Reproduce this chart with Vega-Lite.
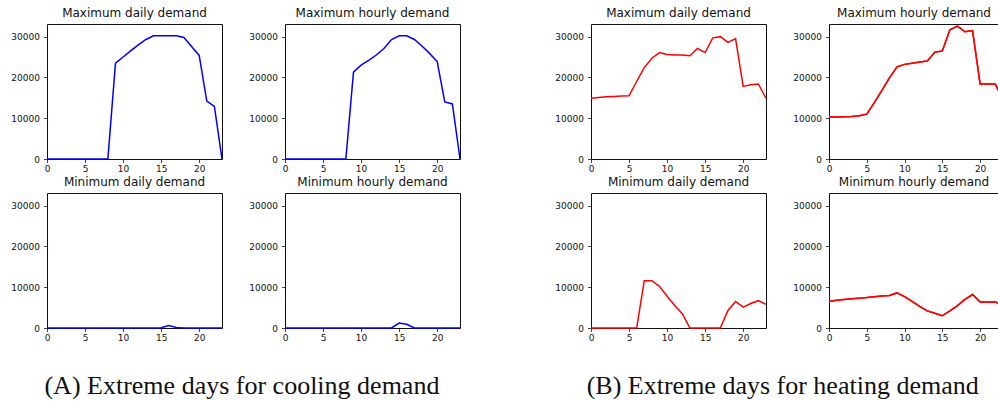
{
  "$schema": "https://vega.github.io/schema/vega-lite/v6.json",
  "padding": {"left": 10, "top": 6, "right": 0, "bottom": 0},
  "background": "white",
  "config": {
    "view": {"stroke": "#111", "strokeWidth": 1},
    "axis": {"domain": false, "grid": false, "tickColor": "#111", "tickSize": 3.5, "tickWidth": 0.8, "labelFont": "DejaVu Sans", "labelFontSize": 9, "labelColor": "#111", "title": null, "labelFlush": false},
    "axisX": {"labelPadding": 2},
    "axisY": {"labelPadding": 4},
    "title": {"font": "DejaVu Sans", "fontSize": 12, "fontWeight": "normal", "color": "#111", "offset": 4, "anchor": "middle", "frame": "group"}
  },
  "datasets": {
    "d": [
      {"g":"A","p":"maxd","h":0,"v":0},{"g":"A","p":"maxd","h":1,"v":0},{"g":"A","p":"maxd","h":2,"v":0},{"g":"A","p":"maxd","h":3,"v":0},{"g":"A","p":"maxd","h":4,"v":0},{"g":"A","p":"maxd","h":5,"v":0},{"g":"A","p":"maxd","h":6,"v":0},{"g":"A","p":"maxd","h":7,"v":0},{"g":"A","p":"maxd","h":8,"v":0},{"g":"A","p":"maxd","h":9,"v":23500},{"g":"A","p":"maxd","h":10,"v":25000},{"g":"A","p":"maxd","h":11,"v":26500},{"g":"A","p":"maxd","h":12,"v":28000},{"g":"A","p":"maxd","h":13,"v":29300},{"g":"A","p":"maxd","h":14,"v":30200},{"g":"A","p":"maxd","h":15,"v":30200},{"g":"A","p":"maxd","h":16,"v":30200},{"g":"A","p":"maxd","h":17,"v":30200},{"g":"A","p":"maxd","h":18,"v":29800},{"g":"A","p":"maxd","h":19,"v":27600},{"g":"A","p":"maxd","h":20,"v":25400},{"g":"A","p":"maxd","h":21,"v":14200},{"g":"A","p":"maxd","h":22,"v":12900},{"g":"A","p":"maxd","h":23,"v":0},
      {"g":"A","p":"maxh","h":0,"v":0},{"g":"A","p":"maxh","h":1,"v":0},{"g":"A","p":"maxh","h":2,"v":0},{"g":"A","p":"maxh","h":3,"v":0},{"g":"A","p":"maxh","h":4,"v":0},{"g":"A","p":"maxh","h":5,"v":0},{"g":"A","p":"maxh","h":6,"v":0},{"g":"A","p":"maxh","h":7,"v":0},{"g":"A","p":"maxh","h":8,"v":0},{"g":"A","p":"maxh","h":9,"v":21300},{"g":"A","p":"maxh","h":10,"v":23000},{"g":"A","p":"maxh","h":11,"v":24200},{"g":"A","p":"maxh","h":12,"v":25500},{"g":"A","p":"maxh","h":13,"v":27100},{"g":"A","p":"maxh","h":14,"v":29300},{"g":"A","p":"maxh","h":15,"v":30200},{"g":"A","p":"maxh","h":16,"v":30200},{"g":"A","p":"maxh","h":17,"v":29300},{"g":"A","p":"maxh","h":18,"v":27700},{"g":"A","p":"maxh","h":19,"v":25900},{"g":"A","p":"maxh","h":20,"v":23900},{"g":"A","p":"maxh","h":21,"v":14000},{"g":"A","p":"maxh","h":22,"v":13500},{"g":"A","p":"maxh","h":23,"v":0},
      {"g":"A","p":"mind","h":0,"v":0},{"g":"A","p":"mind","h":1,"v":0},{"g":"A","p":"mind","h":2,"v":0},{"g":"A","p":"mind","h":3,"v":0},{"g":"A","p":"mind","h":4,"v":0},{"g":"A","p":"mind","h":5,"v":0},{"g":"A","p":"mind","h":6,"v":0},{"g":"A","p":"mind","h":7,"v":0},{"g":"A","p":"mind","h":8,"v":0},{"g":"A","p":"mind","h":9,"v":0},{"g":"A","p":"mind","h":10,"v":0},{"g":"A","p":"mind","h":11,"v":0},{"g":"A","p":"mind","h":12,"v":0},{"g":"A","p":"mind","h":13,"v":0},{"g":"A","p":"mind","h":14,"v":0},{"g":"A","p":"mind","h":15,"v":50},{"g":"A","p":"mind","h":16,"v":600},{"g":"A","p":"mind","h":17,"v":100},{"g":"A","p":"mind","h":18,"v":0},{"g":"A","p":"mind","h":19,"v":0},{"g":"A","p":"mind","h":20,"v":0},{"g":"A","p":"mind","h":21,"v":0},{"g":"A","p":"mind","h":22,"v":0},{"g":"A","p":"mind","h":23,"v":0},
      {"g":"A","p":"minh","h":0,"v":0},{"g":"A","p":"minh","h":1,"v":0},{"g":"A","p":"minh","h":2,"v":0},{"g":"A","p":"minh","h":3,"v":0},{"g":"A","p":"minh","h":4,"v":0},{"g":"A","p":"minh","h":5,"v":0},{"g":"A","p":"minh","h":6,"v":0},{"g":"A","p":"minh","h":7,"v":0},{"g":"A","p":"minh","h":8,"v":0},{"g":"A","p":"minh","h":9,"v":0},{"g":"A","p":"minh","h":10,"v":0},{"g":"A","p":"minh","h":11,"v":0},{"g":"A","p":"minh","h":12,"v":0},{"g":"A","p":"minh","h":13,"v":0},{"g":"A","p":"minh","h":14,"v":0},{"g":"A","p":"minh","h":15,"v":1200},{"g":"A","p":"minh","h":16,"v":900},{"g":"A","p":"minh","h":17,"v":0},{"g":"A","p":"minh","h":18,"v":0},{"g":"A","p":"minh","h":19,"v":0},{"g":"A","p":"minh","h":20,"v":0},{"g":"A","p":"minh","h":21,"v":0},{"g":"A","p":"minh","h":22,"v":0},{"g":"A","p":"minh","h":23,"v":0},
      {"g":"B","p":"maxd","h":0,"v":14900},{"g":"B","p":"maxd","h":1,"v":15100},{"g":"B","p":"maxd","h":2,"v":15250},{"g":"B","p":"maxd","h":3,"v":15350},{"g":"B","p":"maxd","h":4,"v":15450},{"g":"B","p":"maxd","h":5,"v":15500},{"g":"B","p":"maxd","h":6,"v":19000},{"g":"B","p":"maxd","h":7,"v":22400},{"g":"B","p":"maxd","h":8,"v":24700},{"g":"B","p":"maxd","h":9,"v":26100},{"g":"B","p":"maxd","h":10,"v":25600},{"g":"B","p":"maxd","h":11,"v":25500},{"g":"B","p":"maxd","h":12,"v":25500},{"g":"B","p":"maxd","h":13,"v":25300},{"g":"B","p":"maxd","h":14,"v":27100},{"g":"B","p":"maxd","h":15,"v":26100},{"g":"B","p":"maxd","h":16,"v":29700},{"g":"B","p":"maxd","h":17,"v":30000},{"g":"B","p":"maxd","h":18,"v":28600},{"g":"B","p":"maxd","h":19,"v":29500},{"g":"B","p":"maxd","h":20,"v":17800},{"g":"B","p":"maxd","h":21,"v":18200},{"g":"B","p":"maxd","h":22,"v":18400},{"g":"B","p":"maxd","h":23,"v":14900},
      {"g":"B","p":"maxh","h":0,"v":10300},{"g":"B","p":"maxh","h":1,"v":10300},{"g":"B","p":"maxh","h":2,"v":10350},{"g":"B","p":"maxh","h":3,"v":10400},{"g":"B","p":"maxh","h":4,"v":10600},{"g":"B","p":"maxh","h":5,"v":11000},{"g":"B","p":"maxh","h":6,"v":13800},{"g":"B","p":"maxh","h":7,"v":16800},{"g":"B","p":"maxh","h":8,"v":19900},{"g":"B","p":"maxh","h":9,"v":22600},{"g":"B","p":"maxh","h":10,"v":23200},{"g":"B","p":"maxh","h":11,"v":23500},{"g":"B","p":"maxh","h":12,"v":23800},{"g":"B","p":"maxh","h":13,"v":24000},{"g":"B","p":"maxh","h":14,"v":26200},{"g":"B","p":"maxh","h":15,"v":26500},{"g":"B","p":"maxh","h":16,"v":31700},{"g":"B","p":"maxh","h":17,"v":32600},{"g":"B","p":"maxh","h":18,"v":31200},{"g":"B","p":"maxh","h":19,"v":31500},{"g":"B","p":"maxh","h":20,"v":18400},{"g":"B","p":"maxh","h":21,"v":18400},{"g":"B","p":"maxh","h":22,"v":18400},{"g":"B","p":"maxh","h":23,"v":14700},
      {"g":"B","p":"mind","h":0,"v":0},{"g":"B","p":"mind","h":1,"v":0},{"g":"B","p":"mind","h":2,"v":0},{"g":"B","p":"mind","h":3,"v":0},{"g":"B","p":"mind","h":4,"v":0},{"g":"B","p":"mind","h":5,"v":0},{"g":"B","p":"mind","h":6,"v":0},{"g":"B","p":"mind","h":7,"v":11600},{"g":"B","p":"mind","h":8,"v":11600},{"g":"B","p":"mind","h":9,"v":10200},{"g":"B","p":"mind","h":10,"v":7800},{"g":"B","p":"mind","h":11,"v":5500},{"g":"B","p":"mind","h":12,"v":3500},{"g":"B","p":"mind","h":13,"v":0},{"g":"B","p":"mind","h":14,"v":0},{"g":"B","p":"mind","h":15,"v":0},{"g":"B","p":"mind","h":16,"v":0},{"g":"B","p":"mind","h":17,"v":0},{"g":"B","p":"mind","h":18,"v":4300},{"g":"B","p":"mind","h":19,"v":6500},{"g":"B","p":"mind","h":20,"v":5100},{"g":"B","p":"mind","h":21,"v":6000},{"g":"B","p":"mind","h":22,"v":6700},{"g":"B","p":"mind","h":23,"v":5800},
      {"g":"B","p":"minh","h":0,"v":6500},{"g":"B","p":"minh","h":1,"v":6800},{"g":"B","p":"minh","h":2,"v":7000},{"g":"B","p":"minh","h":3,"v":7150},{"g":"B","p":"minh","h":4,"v":7300},{"g":"B","p":"minh","h":5,"v":7450},{"g":"B","p":"minh","h":6,"v":7650},{"g":"B","p":"minh","h":7,"v":7850},{"g":"B","p":"minh","h":8,"v":7950},{"g":"B","p":"minh","h":9,"v":8600},{"g":"B","p":"minh","h":10,"v":7700},{"g":"B","p":"minh","h":11,"v":6500},{"g":"B","p":"minh","h":12,"v":5300},{"g":"B","p":"minh","h":13,"v":4200},{"g":"B","p":"minh","h":14,"v":3600},{"g":"B","p":"minh","h":15,"v":3000},{"g":"B","p":"minh","h":16,"v":4200},{"g":"B","p":"minh","h":17,"v":5500},{"g":"B","p":"minh","h":18,"v":7000},{"g":"B","p":"minh","h":19,"v":8200},{"g":"B","p":"minh","h":20,"v":6400},{"g":"B","p":"minh","h":21,"v":6400},{"g":"B","p":"minh","h":22,"v":6450},{"g":"B","p":"minh","h":23,"v":5300}
    ]
  },
  "spacing": 90,
  "hconcat": [
    {
      "title": {"text": "(A) Extreme days for cooling demand", "orient": "bottom", "font": "Liberation Serif", "fontSize": 26, "offset": 30, "anchor": "middle", "frame": "bounds", "dx": 5, "color": "#111"},
      "columns": 2,
      "spacing": {"row": 1, "column": 22},
      "concat": [
        {"title": "Maximum daily demand", "width": 175, "height": 135, "data": {"name": "d"}, "transform": [{"filter": "datum.g == 'A' && datum.p == 'maxd'"}],
         "mark": {"type": "line", "color": "#0000ff", "strokeWidth": 1.5},
         "encoding": {"x": {"field": "h", "type": "quantitative", "scale": {"domain": [0, 23], "nice": false, "zero": false}, "axis": {"values": [0, 5, 10, 15, 20]}},
                      "y": {"field": "v", "type": "quantitative", "scale": {"domain": [0, 33100], "nice": false}, "axis": {"values": [0, 10000, 20000, 30000], "format": "d"}}}},
        {"title": "Maximum hourly demand", "width": 175, "height": 135, "data": {"name": "d"}, "transform": [{"filter": "datum.g == 'A' && datum.p == 'maxh'"}],
         "mark": {"type": "line", "color": "#0000ff", "strokeWidth": 1.5},
         "encoding": {"x": {"field": "h", "type": "quantitative", "scale": {"domain": [0, 23], "nice": false, "zero": false}, "axis": {"values": [0, 5, 10, 15, 20]}},
                      "y": {"field": "v", "type": "quantitative", "scale": {"domain": [0, 33100], "nice": false}, "axis": {"values": [0, 10000, 20000, 30000], "format": "d"}}}},
        {"title": "Minimum daily demand", "width": 175, "height": 135, "data": {"name": "d"}, "transform": [{"filter": "datum.g == 'A' && datum.p == 'mind'"}],
         "mark": {"type": "line", "color": "#0000ff", "strokeWidth": 1.5},
         "encoding": {"x": {"field": "h", "type": "quantitative", "scale": {"domain": [0, 23], "nice": false, "zero": false}, "axis": {"values": [0, 5, 10, 15, 20]}},
                      "y": {"field": "v", "type": "quantitative", "scale": {"domain": [0, 33100], "nice": false}, "axis": {"values": [0, 10000, 20000, 30000], "format": "d"}}}},
        {"title": "Minimum hourly demand", "width": 175, "height": 135, "data": {"name": "d"}, "transform": [{"filter": "datum.g == 'A' && datum.p == 'minh'"}],
         "mark": {"type": "line", "color": "#0000ff", "strokeWidth": 1.5},
         "encoding": {"x": {"field": "h", "type": "quantitative", "scale": {"domain": [0, 23], "nice": false, "zero": false}, "axis": {"values": [0, 5, 10, 15, 20]}},
                      "y": {"field": "v", "type": "quantitative", "scale": {"domain": [0, 33100], "nice": false}, "axis": {"values": [0, 10000, 20000, 30000], "format": "d"}}}}
      ]
    },
    {
      "title": {"text": "(B) Extreme days for heating demand", "orient": "bottom", "font": "Liberation Serif", "fontSize": 26, "offset": 30, "anchor": "middle", "frame": "bounds", "dx": 6, "color": "#111"},
      "columns": 2,
      "spacing": {"row": 1, "column": 22},
      "concat": [
        {"title": "Maximum daily demand", "width": 175, "height": 135, "data": {"name": "d"}, "transform": [{"filter": "datum.g == 'B' && datum.p == 'maxd'"}],
         "mark": {"type": "line", "color": "#ff0000", "strokeWidth": 1.5},
         "encoding": {"x": {"field": "h", "type": "quantitative", "scale": {"domain": [0, 23], "nice": false, "zero": false}, "axis": {"values": [0, 5, 10, 15, 20]}},
                      "y": {"field": "v", "type": "quantitative", "scale": {"domain": [0, 33100], "nice": false}, "axis": {"values": [0, 10000, 20000, 30000], "format": "d"}}}},
        {"title": "Maximum hourly demand", "width": 170, "height": 135, "data": {"name": "d"}, "transform": [{"filter": "datum.g == 'B' && datum.p == 'maxh'"}],
         "view": {"stroke": null},
         "layer": [
           {"mark": {"type": "line", "color": "#ff0000", "strokeWidth": 1.5, "clip": true},
            "encoding": {"x": {"field": "h", "type": "quantitative", "scale": {"domain": [0, 22.5], "nice": false, "zero": false}, "axis": {"values": [0, 5, 10, 15, 20], "domain": true, "domainColor": "#111", "domainWidth": 1}},
                         "y": {"field": "v", "type": "quantitative", "scale": {"domain": [0, 33100], "nice": false}, "axis": {"values": [0, 10000, 20000, 30000], "format": "d", "domain": true, "domainColor": "#111", "domainWidth": 1}}}},
           {"mark": {"type": "line", "color": "#ff0000", "strokeWidth": 1.5, "clip": true},
            "encoding": {"x": {"field": "h", "type": "quantitative", "scale": {"domain": [0, 22.5], "nice": false, "zero": false}, "axis": {"orient": "top", "labels": false, "ticks": false, "domain": true, "domainColor": "#111", "domainWidth": 1}},
                         "y": {"field": "v", "type": "quantitative", "scale": {"domain": [0, 33100], "nice": false}}}}
         ],
         "resolve": {"axis": {"x": "independent"}}},
        {"title": "Minimum daily demand", "width": 175, "height": 135, "data": {"name": "d"}, "transform": [{"filter": "datum.g == 'B' && datum.p == 'mind'"}],
         "mark": {"type": "line", "color": "#ff0000", "strokeWidth": 1.5},
         "encoding": {"x": {"field": "h", "type": "quantitative", "scale": {"domain": [0, 23], "nice": false, "zero": false}, "axis": {"values": [0, 5, 10, 15, 20]}},
                      "y": {"field": "v", "type": "quantitative", "scale": {"domain": [0, 33100], "nice": false}, "axis": {"values": [0, 10000, 20000, 30000], "format": "d"}}}},
        {"title": "Minimum hourly demand", "width": 170, "height": 135, "data": {"name": "d"}, "transform": [{"filter": "datum.g == 'B' && datum.p == 'minh'"}],
         "view": {"stroke": null},
         "layer": [
           {"mark": {"type": "line", "color": "#ff0000", "strokeWidth": 1.5, "clip": true},
            "encoding": {"x": {"field": "h", "type": "quantitative", "scale": {"domain": [0, 22.5], "nice": false, "zero": false}, "axis": {"values": [0, 5, 10, 15, 20], "domain": true, "domainColor": "#111", "domainWidth": 1}},
                         "y": {"field": "v", "type": "quantitative", "scale": {"domain": [0, 33100], "nice": false}, "axis": {"values": [0, 10000, 20000, 30000], "format": "d", "domain": true, "domainColor": "#111", "domainWidth": 1}}}},
           {"mark": {"type": "line", "color": "#ff0000", "strokeWidth": 1.5, "clip": true},
            "encoding": {"x": {"field": "h", "type": "quantitative", "scale": {"domain": [0, 22.5], "nice": false, "zero": false}, "axis": {"orient": "top", "labels": false, "ticks": false, "domain": true, "domainColor": "#111", "domainWidth": 1}},
                         "y": {"field": "v", "type": "quantitative", "scale": {"domain": [0, 33100], "nice": false}}}}
         ],
         "resolve": {"axis": {"x": "independent"}}}
      ]
    }
  ]
}
